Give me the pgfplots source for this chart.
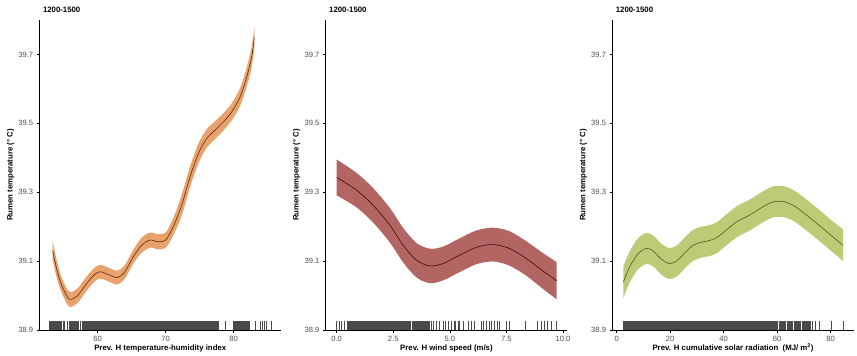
\documentclass[border=0pt]{standalone}
\usepackage{fontspec}
\setmainfont{Liberation Sans}
\usepackage{pgfplots}
\usepackage{pgfplotstable}
\pgfplotsset{compat=1.18}
\usepgfplotslibrary{fillbetween}
\definecolor{rugc}{HTML}{4A4A4A}
\definecolor{tickc}{HTML}{4D4D4D}
\definecolor{bandA}{HTML}{E8A26E}
\definecolor{lineA}{HTML}{5C2A08}
\definecolor{bandB}{HTML}{B26563}
\definecolor{lineB}{HTML}{3D0A0A}
\definecolor{bandC}{HTML}{BDCB77}
\definecolor{lineC}{HTML}{4B5A20}

\pgfplotstableread{
x y lo hi
53.38 39.130 39.102 39.158
54.00 39.075 39.050 39.100
54.70 39.030 39.008 39.052
55.78 38.990 38.968 39.012
57.00 38.999 38.978 39.020
58.38 39.035 39.014 39.056
59.60 39.062 39.042 39.082
60.44 39.069 39.049 39.089
61.81 39.059 39.039 39.079
62.89 39.052 39.032 39.072
64.00 39.069 39.049 39.089
65.24 39.113 39.093 39.133
66.47 39.146 39.124 39.168
67.69 39.161 39.139 39.183
68.91 39.156 39.134 39.178
70.00 39.161 39.139 39.183
71.12 39.200 39.175 39.225
72.35 39.262 39.232 39.292
73.57 39.344 39.314 39.374
74.80 39.412 39.383 39.441
76.03 39.456 39.429 39.483
77.25 39.480 39.454 39.506
78.47 39.504 39.479 39.529
79.70 39.533 39.508 39.558
80.93 39.576 39.550 39.602
81.91 39.634 39.606 39.662
82.64 39.692 39.662 39.722
83.03 39.748 39.716 39.780
}\thidata

\pgfplotstableread{
x y lo hi
0.00 39.343 39.291 39.395
0.88 39.306 39.256 39.356
1.61 39.262 39.212 39.312
2.35 39.204 39.154 39.254
2.94 39.146 39.096 39.196
3.52 39.103 39.053 39.153
4.11 39.086 39.036 39.136
4.70 39.093 39.044 39.142
5.43 39.117 39.068 39.166
6.17 39.140 39.091 39.189
6.90 39.148 39.099 39.197
7.63 39.137 39.087 39.187
8.37 39.108 39.058 39.158
9.10 39.072 39.020 39.124
9.72 39.043 38.989 39.097
}\winddata

\pgfplotstableread{
x y lo hi
2.49 39.039 38.993 39.085
4.98 39.085 39.040 39.130
8.09 39.122 39.077 39.167
11.20 39.137 39.092 39.182
13.70 39.129 39.084 39.174
16.80 39.105 39.060 39.150
19.70 39.093 39.048 39.138
22.40 39.100 39.055 39.145
25.50 39.124 39.079 39.169
28.60 39.146 39.101 39.191
31.80 39.155 39.110 39.200
34.90 39.160 39.115 39.205
37.40 39.168 39.123 39.213
40.50 39.187 39.142 39.232
44.90 39.214 39.169 39.259
49.80 39.234 39.189 39.279
54.80 39.258 39.213 39.303
58.50 39.272 39.227 39.317
62.30 39.273 39.228 39.318
66.00 39.262 39.217 39.307
69.80 39.241 39.196 39.286
74.80 39.210 39.165 39.255
79.70 39.178 39.133 39.223
84.70 39.146 39.100 39.192
}\solardata

\pgfplotsset{
  panel/.style={
    scale only axis, width=241.5pt, height=310pt,
    ymin=38.9, ymax=39.8,
    ytick={38.9,39.1,39.3,39.5,39.7},
    axis x line*=bottom, axis y line*=left,
    axis line style={black, line width=0.5pt, -},
    tick align=outside, major tick length=2.75pt,
    tick style={black, line width=0.5pt},
    ticklabel style={font=\fontsize{7.6}{9}\selectfont, text=tickc},
    /pgf/number format/assume math mode=true,
    yticklabel style={/pgf/number format/fixed, /pgf/number format/precision=1, /pgf/number format/fixed zerofill},
    every axis x label/.style={at={(axis description cs:0.5,-0.059)}, anchor=center, font=\bfseries\fontsize{7.8}{9}\selectfont},
    every axis y label/.style={at={(axis description cs:-0.12,0.5)}, rotate=90, anchor=center, font=\bfseries\fontsize{7.8}{9}\selectfont},
    every axis title/.style={at={(axis description cs:0,1)}, anchor=base west, yshift=7.7pt, font=\bfseries\fontsize{7.8}{9}\selectfont},
    title={1200-1500},
    ylabel={Rumen temperature (° C)},
  },
  rug/.style={only marks, mark=|, mark size=4.65pt, mark options={line width=0.8pt, draw=rugc}},
  rugblock/.style={draw=rugc, line width=9.3pt, line cap=butt, mark=none},
}

\begin{document}
\begin{tikzpicture}[x=1pt,y=1pt]
\path (0,0) rectangle (857,353);

% Panel 1
\begin{axis}[panel, at={(39.5pt,23pt)}, anchor=south west,
  xmin=51.44, xmax=86.96, xtick={60,70,80},
  xlabel={Prev. H temperature-humidity index}]
\addplot[name path=up, draw=none, smooth] table[x=x,y=hi]{\thidata};
\addplot[name path=lo, draw=none, smooth] table[x=x,y=lo]{\thidata};
\addplot[bandA, draw=none] fill between[of=up and lo];
\addplot[smooth, lineA, line width=0.6pt] table[x=x,y=y]{\thidata};
\addplot[rugblock] coordinates {(52.91,38.9135)(54.68,38.9135)};
\addplot[rugblock] coordinates {(55.78,38.9135)(57.22,38.9135)};
\addplot[rugblock] coordinates {(57.69,38.9135)(77.84,38.9135)};
\addplot[rugblock] coordinates {(80.12,38.9135)(82.47,38.9135)};
\addplot[rug] coordinates {(54.90,38.9135)(55.12,38.9135)(55.49,38.9135)(57.44,38.9135)(78.82,38.9135)(80.0,38.9135)(83.18,38.9135)(83.87,38.9135)(84.24,38.9135)(84.53,38.9135)(84.82,38.9135)(85.49,38.9135)};
\end{axis}

% Panel 2
\begin{axis}[panel, at={(325.7pt,23pt)}, anchor=south west,
  xmin=-0.485, xmax=10.185, xtick={0,2.5,5,7.5,10},
  xticklabel style={/pgf/number format/fixed, /pgf/number format/precision=1, /pgf/number format/fixed zerofill},
  xlabel={Prev. H wind speed (m/s)}]
\addplot[name path=up, draw=none, smooth] table[x=x,y=hi]{\winddata};
\addplot[name path=lo, draw=none, smooth] table[x=x,y=lo]{\winddata};
\addplot[bandB, draw=none] fill between[of=up and lo];
\addplot[smooth, lineB, line width=0.6pt] table[x=x,y=y]{\winddata};
\addplot[rugblock] coordinates {(0.44,38.9135)(3.27,38.9135)};
\addplot[rugblock] coordinates {(3.34,38.9135)(4.11,38.9135)};
\addplot[rug] coordinates {(0.0,38.9135)(0.10,38.9135)(0.20,38.9135)(0.32,38.9135)
 (4.18,38.9135)(4.28,38.9135)(4.40,38.9135)(4.55,38.9135)(4.70,38.9135)(4.82,38.9135)(4.95,38.9135)
 (5.07,38.9135)(5.18,38.9135)(5.26,38.9135)(5.36,38.9135)(5.43,38.9135)(5.58,38.9135)(5.80,38.9135)
 (5.95,38.9135)(6.09,38.9135)(6.39,38.9135)(6.50,38.9135)(6.62,38.9135)(6.74,38.9135)(6.85,38.9135)
 (6.97,38.9135)(7.09,38.9135)(7.19,38.9135)(7.49,38.9135)(7.63,38.9135)(8.33,38.9135)(8.88,38.9135)
 (9.03,38.9135)(9.18,38.9135)(9.32,38.9135)(9.47,38.9135)(9.69,38.9135)};
\end{axis}

% Panel 3
\begin{axis}[panel, at={(612.3pt,23pt)}, anchor=south west,
  xmin=-1.64, xmax=88.7, xtick={0,20,40,60,80},
  xlabel={Prev. H cumulative solar radiation\ \ (MJ/ m\textsuperscript{2})}]
\addplot[name path=up, draw=none, smooth] table[x=x,y=hi]{\solardata};
\addplot[name path=lo, draw=none, smooth] table[x=x,y=lo]{\solardata};
\addplot[bandC, draw=none] fill between[of=up and lo];
\addplot[smooth, lineC, line width=0.6pt] table[x=x,y=y]{\solardata};
\addplot[rugblock] coordinates {(2.24,38.9135)(60.2,38.9135)};
\addplot[rugblock] coordinates {(60.6,38.9135)(63.3,38.9135)};
\addplot[rugblock] coordinates {(63.7,38.9135)(65.8,38.9135)};
\addplot[rugblock] coordinates {(66.2,38.9135)(69.0,38.9135)};
\addplot[rugblock] coordinates {(69.4,38.9135)(72.6,38.9135)};
\addplot[rug] coordinates {(73.3,38.9135)(74.4,38.9135)(76.0,38.9135)(80.4,38.9135)(84.7,38.9135)};
\end{axis}
\end{tikzpicture}
\end{document}
